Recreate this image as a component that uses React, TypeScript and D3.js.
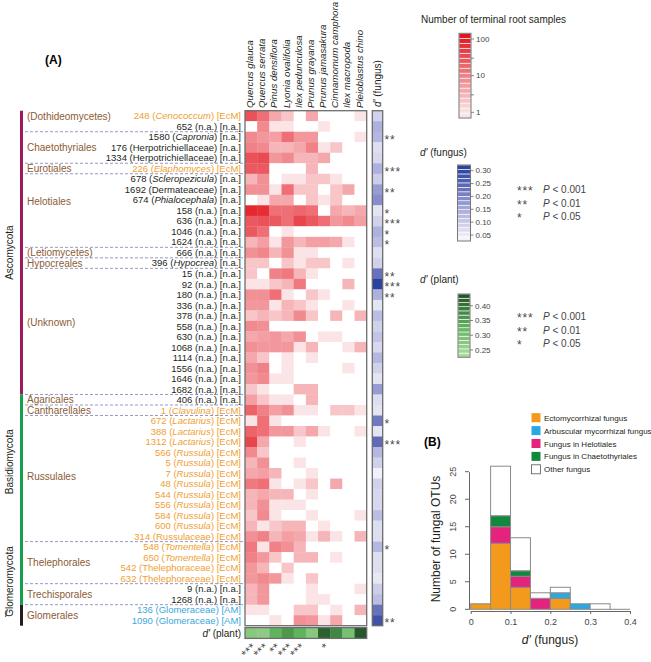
import React, { useEffect, useRef } from 'react';
import * as d3 from 'd3';

const plants = ['Quercus glauca', 'Quercus serrata', 'Pinus densiflora', 'Lyonia ovalifolia', 'Ilex pedunculosa',
  'Prunus grayana', 'Prunus jamasakura', 'Cinnamomum camphora', 'Ilex macropoda', 'Pleioblastus chino'];

const otuIds = ['248', '652', '1580', '176', '1334', '226', '678', '1692', '674', '158', '636', '1046', '1624', '666',
  '396', '15', '92', '180', '336', '378', '558', '630', '1068', '1114', '1556', '1646', '1682', '406', '1', '672',
  '388', '1312', '566', '5', '7', '48', '544', '556', '584', '600', '314', '548', '650', '542', '632', '9', '1268',
  '136', '1090'];

const otuTaxa = ['Cenococcum', 'n.a.', 'Capronia', 'Herpotrichiellaceae', 'Herpotrichiellaceae', 'Elaphomyces',
  'Scleropezicula', 'Dermateaceae', 'Phialocephala', 'n.a.', 'n.a.', 'n.a.', 'n.a.', 'n.a.', 'Hypocrea', 'n.a.',
  'n.a.', 'n.a.', 'n.a.', 'n.a.', 'n.a.', 'n.a.', 'n.a.', 'n.a.', 'n.a.', 'n.a.', 'n.a.', 'n.a.', 'Clavulina',
  'Lactarius', 'Lactarius', 'Lactarius', 'Russula', 'Russula', 'Russula', 'Russula', 'Russula', 'Russula', 'Russula',
  'Russula', 'Russulaceae', 'Tomentella', 'Tomentella', 'Thelephoraceae', 'Thelephoraceae', 'n.a.', 'n.a.',
  'Glomeraceae', 'Glomeraceae'];

const otuTypes = ['EcM', 'n.a.', 'n.a.', 'n.a.', 'n.a.', 'EcM', 'n.a.', 'n.a.', 'n.a.', 'n.a.', 'n.a.', 'n.a.', 'n.a.',
  'n.a.', 'n.a.', 'n.a.', 'n.a.', 'n.a.', 'n.a.', 'n.a.', 'n.a.', 'n.a.', 'n.a.', 'n.a.', 'n.a.', 'n.a.', 'n.a.',
  'n.a.', 'EcM', 'EcM', 'EcM', 'EcM', 'EcM', 'EcM', 'EcM', 'EcM', 'EcM', 'EcM', 'EcM', 'EcM', 'EcM', 'EcM', 'EcM',
  'EcM', 'EcM', 'n.a.', 'n.a.', 'AM', 'AM'];

// number of terminal root samples, one row per OTU, columns follow plants
const counts = [
  [30, 15, 4, 2, 0, 4, 0, 0, 0, 1],
  [0, 8, 1, 1, 0, 0, 1, 0, 0, 0],
  [8, 6, 5, 15, 6, 6, 0, 0, 0, 1],
  [10, 8, 3, 3, 4, 10, 1, 2, 0, 0],
  [30, 35, 6, 8, 3, 3, 4, 0, 0, 0],
  [25, 25, 0, 0, 0, 3, 0, 0, 0, 0],
  [3, 7, 0, 1, 1, 2, 2, 1, 0, 0],
  [7, 7, 1, 15, 2, 2, 0, 2, 4, 0],
  [0, 1, 4, 4, 0, 2, 1, 2, 0, 0],
  [80, 70, 15, 15, 18, 15, 0, 4, 3, 4],
  [25, 30, 25, 15, 40, 25, 15, 6, 8, 5],
  [25, 15, 0, 1, 0, 0, 0, 0, 0, 0],
  [3, 5, 1, 6, 3, 5, 5, 4, 1, 0],
  [7, 9, 3, 7, 1, 1, 0, 0, 0, 0],
  [2, 2, 0, 2, 1, 2, 2, 0, 1, 0],
  [2, 0, 10, 12, 3, 1, 0, 0, 0, 0],
  [1, 1, 2, 3, 12, 0, 0, 0, 3, 0],
  [7, 7, 15, 1, 0, 2, 1, 0, 0, 0],
  [6, 6, 1, 3, 2, 1, 0, 0, 1, 0],
  [2, 3, 2, 3, 8, 2, 0, 3, 0, 3],
  [8, 7, 0, 0, 0, 0, 0, 0, 0, 0],
  [4, 5, 6, 4, 7, 0, 1, 1, 0, 0],
  [7, 6, 6, 6, 1, 3, 0, 0, 1, 3],
  [4, 2, 0, 1, 0, 1, 0, 0, 0, 0],
  [7, 10, 0, 1, 0, 0, 0, 0, 1, 0],
  [6, 8, 1, 1, 0, 0, 0, 0, 0, 0],
  [2, 1, 0, 0, 3, 3, 0, 0, 0, 0],
  [5, 2, 1, 1, 0, 3, 0, 0, 0, 0],
  [20, 10, 5, 7, 1, 1, 0, 2, 2, 1],
  [1, 15, 1, 0, 0, 0, 0, 0, 0, 0],
  [20, 15, 6, 6, 2, 4, 1, 0, 0, 1],
  [40, 4, 0, 0, 1, 0, 0, 0, 0, 0],
  [8, 2, 0, 0, 0, 0, 0, 0, 0, 0],
  [3, 7, 0, 0, 1, 0, 0, 0, 0, 0],
  [4, 5, 3, 0, 0, 1, 0, 0, 0, 0],
  [12, 15, 1, 0, 1, 2, 0, 4, 0, 0],
  [3, 4, 3, 3, 0, 1, 0, 0, 0, 0],
  [3, 7, 1, 1, 1, 0, 0, 0, 0, 0],
  [2, 8, 1, 0, 0, 1, 0, 0, 0, 1],
  [3, 1, 2, 3, 3, 0, 1, 0, 0, 0],
  [7, 10, 3, 5, 4, 1, 3, 1, 0, 3],
  [12, 1, 10, 7, 3, 0, 0, 0, 0, 0],
  [10, 6, 2, 0, 3, 3, 0, 1, 0, 0],
  [6, 3, 0, 2, 0, 0, 0, 0, 0, 0],
  [6, 8, 6, 1, 0, 2, 0, 0, 0, 0],
  [3, 6, 0, 0, 0, 1, 0, 0, 0, 1],
  [3, 6, 0, 0, 0, 1, 1, 0, 0, 0],
  [1, 1, 0, 0, 2, 2, 0, 1, 0, 3],
  [0, 0, 1, 0, 7, 6, 1, 4, 0, 0],
];

const dFungus = [0.09, 0.14, 0.13, 0.07, 0.08, 0.14, 0.095, 0.17, 0.19, 0.06, 0.09, 0.14, 0.12, 0.07, 0.09, 0.23,
  0.31, 0.14, 0.06, 0.12, 0.09, 0.11, 0.08, 0.13, 0.09, 0.06, 0.17, 0.07, 0.06, 0.22, 0.06, 0.24, 0.13, 0.09, 0.04,
  0.09, 0.08, 0.08, 0.12, 0.07, 0.07, 0.13, 0.07, 0.07, 0.055, 0.095, 0.12, 0.23, 0.28];

const fungusSig = ['', '', '**', '', '', '***', '', '**', '', '*', '***', '*', '*', '', '', '**', '***', '**', '', '',
  '', '', '', '', '', '', '', '', '', '*', '', '***', '', '', '', '', '', '', '', '', '', '*', '', '', '', '', '',
  '', '**'];

const dPlant = [0.28, 0.27, 0.33, 0.36, 0.33, 0.28, 0.42, 0.38, 0.30, 0.43];
const plantSig = ['***', '***', '**', '***', '***', '', '*', '', '', ''];

// orders: first/last row (0-based), label position in row units
const orders = [
  { name: '(Dothideomycetes)', first: 0, last: 1, at: 0.5 },
  { name: 'Chaetothyriales', first: 2, last: 4, at: 3.5 },
  { name: 'Eurotiales', first: 5, last: 5, at: 5.5 },
  { name: 'Helotiales', first: 6, last: 12, at: 8.6 },
  { name: '(Letiomycetes)', first: 13, last: 13, at: 13.5 },
  { name: 'Hypocreales', first: 14, last: 14, at: 14.5 },
  { name: '(Unknown)', first: 15, last: 26, at: 20.1 },
  { name: 'Agaricales', first: 27, last: 27, at: 27.5 },
  { name: 'Cantharellales', first: 28, last: 28, at: 28.5 },
  { name: 'Russulales', first: 29, last: 40, at: 34.8 },
  { name: 'Thelephorales', first: 41, last: 44, at: 43 },
  { name: 'Trechisporales', first: 45, last: 46, at: 46 },
  { name: 'Glomerales', first: 47, last: 48, at: 48 },
];

const phyla = [
  { name: 'Ascomycota', first: 0, last: 26, at: 13.5, color: '#a0195c' },
  { name: 'Basidiomycota', first: 27, last: 46, at: 33.4, color: '#17a04b' },
  { name: 'Glomeromycota', first: 47, last: 48, at: 44.8, color: '#231f20' },
];

const histCats = ['EcM', 'AM', 'Helotiales', 'Chaetothyriales', 'Other'];
const histLabels = ['Ectomycorrhizal fungus', 'Arbuscular mycorrhizal fungus', 'Fungus in Helotiales',
  'Fungus in Chaetothyriales', 'Other fungus'];
const histColors = ['#f39a1d', '#2aa9e0', '#e5237c', '#10893d', '#ffffff'];

const countTicks = [1, 3, 10, 30, 100];
const countLabels = [1, 10, 100];
const fungusTicks = [0.05, 0.10, 0.15, 0.20, 0.25, 0.30];
const plantTicks = [0.25, 0.30, 0.35, 0.40];
const sigLegend = [['***', 'P', ' < 0.001'], ['**', 'P', ' < 0.01'], ['*', 'P', ' < 0.05']];

const FONT = '"Liberation Sans", Arial, sans-serif';
const typeColor = (t) => (t === 'EcM' ? '#f0a032' : t === 'AM' ? '#3aa7dd' : '#231f20');
const brown = '#8c5b34';
const starColor = '#4a4a4a';

const App = () => {
  const svgRef = useRef();

  useEffect(() => {
    const svg = d3.select(svgRef.current);
    svg.selectAll('*').remove();
    svg.attr('font-family', FONT);

    const nRows = otuIds.length;
    const x = d3.scaleBand().domain(plants).range([245, 366.7]);
    const y = d3.scaleBand().domain(d3.range(nRows)).range([110.7, 625.7]);
    const rowY = (r) => 110.7 + r * y.step();

    const red = d3.scaleLog().domain([1, 130]).range(['#fbe4e6', '#e3121b']).interpolate(d3.interpolateRgb).clamp(true);
    const redFill = (v) => (v > 0 ? red(v) : '#ffffff');
    const blue = d3.scaleLinear()
      .domain([0.03, 0.05, 0.10, 0.15, 0.20, 0.25, 0.31])
      .range(['#f7f7fc', '#ebebf6', '#c9cbe8', '#a6aada', '#8087c8', '#5764b4', '#2a439e']).clamp(true);
    const green = d3.scaleLinear().domain([0.225, 0.33, 0.44]).range(['#b2dca5', '#5fb35c', '#1f4f26']).clamp(true);

    svg.append('text').attr('x', 45).attr('y', 64).attr('font-size', 12).attr('font-weight', 'bold').text('(A)');

    // heatmap cells
    const hm = svg.append('g');
    counts.forEach((row, r) => {
      hm.selectAll(null).data(row).enter().append('rect')
        .attr('x', (d, i) => x(plants[i]))
        .attr('y', y(r))
        .attr('width', x.bandwidth() + 0.3)
        .attr('height', y.bandwidth() + 0.3)
        .attr('fill', d => redFill(d));
    });
    hm.append('rect').attr('x', 245).attr('y', 110.7).attr('width', 121.7).attr('height', 515)
      .attr('fill', 'none').attr('stroke', '#6d6d6d').attr('stroke-width', 1.3);

    // plant names
    svg.selectAll('.plant').data(plants).enter().append('text')
      .attr('transform', d => `translate(${x(d) + x.bandwidth() / 2 + 2},108) rotate(-90)`)
      .attr('font-size', 9.7).attr('font-style', 'italic').attr('fill', '#231f20')
      .text(d => d);

    // d' fungus column
    const fx = 372.3, fw = 10.4;
    svg.selectAll('.df').data(dFungus).enter().append('rect')
      .attr('x', fx).attr('y', (d, i) => y(i)).attr('width', fw).attr('height', y.bandwidth() + 0.3)
      .attr('fill', d => blue(d));
    svg.append('rect').attr('x', fx).attr('y', 110.7).attr('width', fw).attr('height', 515)
      .attr('fill', 'none').attr('stroke', '#6d6d6d').attr('stroke-width', 1.3);
    const dh = svg.append('text').attr('transform', `translate(${fx + fw / 2 + 3},107) rotate(-90)`)
      .attr('font-size', 10).attr('fill', '#231f20');
    dh.append('tspan').attr('font-style', 'italic').text("d'");
    dh.append('tspan').text(' (fungus)');
    svg.selectAll('.fs').data(fungusSig).enter().append('text')
      .attr('x', 384.5).attr('y', (d, i) => y(i) + y.bandwidth() / 2 + 7)
      .attr('font-size', 12).attr('letter-spacing', 0.8).attr('fill', starColor).text(d => d);

    // d' plant row
    const py = 627.6, ph = 10.8;
    svg.selectAll('.dp').data(dPlant).enter().append('rect')
      .attr('x', (d, i) => x(plants[i])).attr('y', py).attr('width', x.bandwidth() + 0.3).attr('height', ph)
      .attr('fill', d => green(d));
    svg.append('rect').attr('x', 245).attr('y', py).attr('width', 121.7).attr('height', ph)
      .attr('fill', 'none').attr('stroke', '#6d6d6d').attr('stroke-width', 1.3);
    const pl = svg.append('text').attr('x', 241).attr('y', py + ph / 2 + 3.5).attr('text-anchor', 'end')
      .attr('font-size', 10).attr('fill', '#231f20');
    pl.append('tspan').attr('font-style', 'italic').text("d'");
    pl.append('tspan').text(' (plant)');
    svg.selectAll('.ps').data(plantSig).enter().append('text')
      .attr('transform', (d, i) => `translate(${x(plants[i]) + x.bandwidth() / 2 + 6},648) rotate(-45)`)
      .attr('text-anchor', 'end').attr('font-size', 12).attr('letter-spacing', 0.4)
      .attr('fill', starColor).text(d => d);

    // row labels
    svg.selectAll('.rl').data(otuIds).enter().append('text')
      .attr('x', 241).attr('y', (d, i) => y(i) + y.bandwidth() / 2 + 3.4)
      .attr('text-anchor', 'end').attr('font-size', 9.5)
      .attr('fill', (d, i) => typeColor(otuTypes[i]))
      .each(function (d, i) {
        const t = d3.select(this);
        const taxon = otuTaxa[i];
        const ital = taxon !== 'n.a.' && !taxon.endsWith('aceae');
        t.append('tspan').text(`${d} (`);
        t.append('tspan').attr('font-style', ital ? 'italic' : 'normal').text(taxon);
        t.append('tspan').text(`) [${otuTypes[i]}]`);
      });

    // order separators and labels
    svg.selectAll('.sep').data(orders.slice(0, -1)).enter().append('line')
      .attr('x1', 25).attr('x2', 245)
      .attr('y1', d => rowY(d.last + 1)).attr('y2', d => rowY(d.last + 1))
      .attr('stroke', '#7b7fb8').attr('stroke-width', 0.8).attr('stroke-dasharray', '3,2');
    svg.selectAll('.ol').data(orders).enter().append('text')
      .attr('x', 27).attr('y', d => rowY(d.at) + 3.6)
      .attr('font-size', 10).attr('fill', brown).text(d => d.name);

    // phyla
    svg.selectAll('.pb').data(phyla).enter().append('line')
      .attr('x1', 21.5).attr('x2', 21.5)
      .attr('y1', d => rowY(d.first)).attr('y2', d => rowY(d.last + 1))
      .attr('stroke', d => d.color).attr('stroke-width', 3);
    svg.selectAll('.pn').data(phyla).enter().append('text')
      .attr('transform', d => `translate(13,${rowY(d.at)}) rotate(-90)`)
      .attr('text-anchor', 'middle').attr('font-size', 10).attr('fill', '#231f20').text(d => d.name);
    svg.append('text').attr('x', 5).attr('y', rowY(48.2)).attr('font-size', 10).attr('fill', '#231f20').text('/');

    // colour bar legends
    const colorBar = (x0, w, yScale, lo, hi, n, fill, ticks, labels, fmt) => {
      const g = svg.append('g');
      const top = yScale(hi), bot = yScale(lo);
      const sh = (bot - top) / n;
      d3.range(n).forEach((k) => {
        const y0 = bot - (k + 1) * sh;
        const v = yScale.invert(y0 + sh / 2);
        g.append('rect').attr('x', x0).attr('y', y0).attr('width', w).attr('height', sh)
          .attr('fill', fill(v)).attr('stroke', '#fff').attr('stroke-width', 0.6);
      });
      g.append('rect').attr('x', x0).attr('y', top).attr('width', w).attr('height', bot - top)
        .attr('fill', 'none').attr('stroke', '#777').attr('stroke-width', 1);
      g.selectAll('.t').data(ticks).enter().append('line')
        .attr('x1', x0 + w).attr('x2', x0 + w + 3).attr('y1', d => yScale(d)).attr('y2', d => yScale(d))
        .attr('stroke', '#666').attr('stroke-width', 0.8);
      g.selectAll('.l').data(labels).enter().append('text')
        .attr('x', x0 + w + 5).attr('y', d => yScale(d) + 2.8)
        .attr('font-size', 8).attr('fill', '#444').text(d => fmt(d));
    };

    svg.append('text').attr('x', 421).attr('y', 23).attr('font-size', 10).attr('fill', '#231f20')
      .text('Number of terminal root samples');
    const cy = d3.scaleLog().domain([0.7, 143]).range([118, 33.3]);
    colorBar(459, 12, cy, 0.7, 143, 17, (v) => red(Math.max(v, 1)), countTicks, countLabels, (d) => d);

    const ft = svg.append('text').attr('x', 420).attr('y', 156).attr('font-size', 10).attr('fill', '#231f20');
    ft.append('tspan').attr('font-style', 'italic').text("d'");
    ft.append('tspan').text(' (fungus)');
    const fy = d3.scaleLinear().domain([0.027, 0.322]).range([241, 165]);
    colorBar(457.5, 13, fy, 0.027, 0.322, 17, blue, fungusTicks, fungusTicks, (d) => d.toFixed(2));

    const gt = svg.append('text').attr('x', 420).attr('y', 283).attr('font-size', 10).attr('fill', '#231f20');
    gt.append('tspan').attr('font-style', 'italic').text("d'");
    gt.append('tspan').text(' (plant)');
    const gy = d3.scaleLinear().domain([0.225, 0.44]).range([357.3, 294]);
    colorBar(458, 12, gy, 0.225, 0.44, 15, green, plantTicks, plantTicks, (d) => d.toFixed(2));

    [193, 320].forEach((y0) => {
      sigLegend.forEach((s, i) => {
        svg.append('text').attr('x', 517).attr('y', y0 + i * 13.5 + 2).attr('font-size', 12)
          .attr('letter-spacing', 0.8).attr('fill', starColor).text(s[0]);
        const t = svg.append('text').attr('x', 543).attr('y', y0 + i * 13.5).attr('font-size', 10).attr('fill', '#444');
        t.append('tspan').attr('font-style', 'italic').text(s[1]);
        t.append('tspan').text(s[2]);
      });
    });

    // (B) histogram
    const catOf = (i) => {
      if (otuTypes[i] === 'EcM') return 'EcM';
      if (otuTypes[i] === 'AM') return 'AM';
      const o = orders.find(o => i >= o.first && i <= o.last);
      if (o.name === 'Helotiales') return 'Helotiales';
      if (o.name === 'Chaetothyriales') return 'Chaetothyriales';
      return 'Other';
    };
    const hx = d3.scaleLinear().domain([0, 0.4]).range([470.7, 630]);
    const hy = d3.scaleLinear().domain([0, 25]).range([609.3, 471.7]);
    const bins = d3.bin().value(d => d.v).domain([0, 0.4]).thresholds(d3.range(1, 8).map(k => k * 0.05))(
      dFungus.map((v, i) => ({ v, cat: catOf(i) })));
    const hg = svg.append('g');
    bins.forEach((b) => {
      let acc = 0;
      if (b.length === 0) {
        hg.append('line').attr('x1', hx(b.x0)).attr('x2', hx(b.x1)).attr('y1', hy(0)).attr('y2', hy(0))
          .attr('stroke', '#888').attr('stroke-width', 1);
      }
      histCats.forEach((c, ci) => {
        const n = b.filter(d => d.cat === c).length;
        if (!n) return;
        hg.append('rect').attr('x', hx(b.x0)).attr('width', hx(b.x1) - hx(b.x0))
          .attr('y', hy(acc + n)).attr('height', hy(acc) - hy(acc + n))
          .attr('fill', histColors[ci]).attr('stroke', '#8a8a8a').attr('stroke-width', 1);
        acc += n;
      });
    });

    const ax = svg.append('g').attr('transform', 'translate(0,611)')
      .call(d3.axisBottom(hx).tickValues([0, 0.1, 0.2, 0.3, 0.4]).tickSize(3).tickPadding(5).tickSizeOuter(0)
        .tickFormat(d3.format('')));
    ax.selectAll('text').attr('font-size', 9).attr('fill', '#444').attr('font-family', FONT);
    ax.selectAll('line, path').attr('stroke', '#666');
    const ay = svg.append('g').attr('transform', 'translate(469,0)')
      .call(d3.axisLeft(hy).tickValues([0, 5, 10, 15, 20, 25]).tickSize(4).tickSizeOuter(0));
    ay.selectAll('.tick').attr('transform', null);
    ay.selectAll('.tick line').attr('y1', d => hy(d)).attr('y2', d => hy(d));
    ay.selectAll('text').each(function (d) {
      d3.select(this).attr('transform', `translate(-13,${hy(d)}) rotate(-90)`).attr('x', 0).attr('y', 0)
        .attr('dy', null);
    });
    ay.selectAll('text').attr('font-size', 9).attr('fill', '#444').attr('font-family', FONT).attr('text-anchor', 'middle');
    ay.selectAll('line, path').attr('stroke', '#666');

    svg.append('text').attr('transform', 'translate(440,539) rotate(-90)').attr('text-anchor', 'middle')
      .attr('font-size', 12).attr('fill', '#231f20').text('Number of fungal OTUs');
    const xl = svg.append('text').attr('x', 550).attr('y', 644).attr('text-anchor', 'middle')
      .attr('font-size', 12).attr('fill', '#231f20');
    xl.append('tspan').attr('font-style', 'italic').text("d'");
    xl.append('tspan').text(' (fungus)');
    svg.append('text').attr('x', 424).attr('y', 446).attr('font-size', 12).attr('font-weight', 'bold').text('(B)');

    const lg = svg.append('g');
    histLabels.forEach((l, i) => {
      const yy = 417.7 + i * 12.9;
      lg.append('rect').attr('x', 531.5).attr('y', yy - 4.5).attr('width', 9).attr('height', 9)
        .attr('fill', histColors[i]).attr('stroke', i === 4 ? '#555' : 'none').attr('stroke-width', 0.8);
      lg.append('text').attr('x', 544).attr('y', yy + 3).attr('font-size', 8).attr('fill', '#231f20').text(l);
    });
  }, []);

  return (
    <svg ref={svgRef} width={651} height={662} style={{ position: 'absolute', left: 0, top: 0, background: '#fff' }}></svg>
  );
};

export default App;
